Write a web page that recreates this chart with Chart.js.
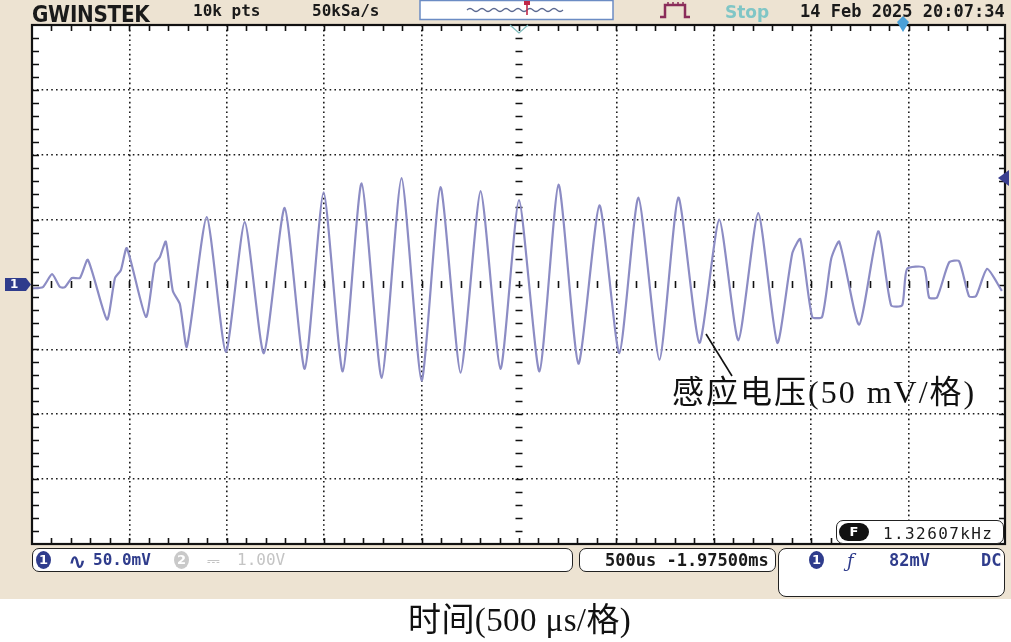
<!DOCTYPE html>
<html><head><meta charset="utf-8">
<script src="https://cdn.jsdelivr.net/npm/chart.js@4.4.1/dist/chart.umd.min.js"></script>
<style>
html,body{margin:0;padding:0;background:#fff;}
#wrap{position:relative;width:1011px;height:642px;overflow:hidden;background:#fff;}
#beige{position:absolute;left:0;top:0;width:1011px;height:599px;background:#ede3d2;}
#c{position:absolute;left:0;top:0;}
#deco{position:absolute;left:0;top:0;}
.t{position:absolute;white-space:nowrap;line-height:1;}
.mono{font-family:"DejaVu Sans Mono",monospace;font-weight:bold;}
.box{position:absolute;box-sizing:border-box;border:1.5px solid #222;background:#fff;}
.circ{position:absolute;width:15px;height:18px;border-radius:50%;color:#fff;font:bold 13px "DejaVu Sans",sans-serif;text-align:center;line-height:18px;}
.cn{font-family:"Liberation Serif","Noto Sans CJK SC",serif;color:#111;}
</style></head>
<body><div id="wrap">
<div id="beige"></div>
<canvas id="c" width="1011" height="642"></canvas>
<svg id="deco" width="1011" height="642" xmlns="http://www.w3.org/2000/svg">
  <rect x="420" y="0.5" width="193" height="19" fill="#fff" stroke="#6b8cc4" stroke-width="1.5"/>
  <path d="M467 10 q3 -3 6 0 t6 0 t6 0 t6 0 t6 0 t6 0 t6 0 t6 0 t6 0 t6 0 t6 0 t6 0 t6 0 t6 0 t6 0 t6 0" fill="none" stroke="#5a6890" stroke-width="1.2"/>
  <line x1="527" y1="3" x2="527" y2="15" stroke="#c02848" stroke-width="1.6"/>
  <path d="M524 1 h6 v4 h-6 z" fill="#c02848"/>
  <path d="M660 17 H665 V5 H685 V17 H690" fill="none" stroke="#8a2c5a" stroke-width="2.5"/>
  <path d="M668 4 v-2 M673 4 v-2 M678 4 v-2 M683 4 v-2" stroke="#8a2c5a" stroke-width="1.5"/>
  <path d="M510 25 L519 33 L528 25" fill="none" stroke="#7fbcbc" stroke-width="1.3"/>
  <path d="M897 22 L903 16 L909 22 L903 32 Z" fill="#4aa0d8"/>
  <path d="M5 278 H26 L31 284.5 L26 291 H5 Z" fill="#2f3c8c"/>
  <line x1="706" y1="334" x2="732" y2="376" stroke="#111" stroke-width="1.6"/>
</svg>
<div class="t" style="left:32px;top:1px;font:bold 20px 'DejaVu Sans',sans-serif;color:#1a1a1a;letter-spacing:-0.3px;transform:scaleY(1.12);transform-origin:0 0;">GWINSTEK</div>
<div class="t mono" style="left:193px;top:3px;font-size:16px;color:#1a1a1a;">10k pts</div>
<div class="t mono" style="left:312px;top:3px;font-size:16px;color:#1a1a1a;">50kSa/s</div>
<div class="t" style="left:725px;top:2px;font:bold 17px 'DejaVu Sans',sans-serif;color:#80c6c6;">Stop</div>
<div class="t mono" style="left:800px;top:3px;font-size:17px;color:#1a1a1a;">14 Feb 2025 20:07:34</div>
<div class="t" style="left:10px;top:278px;font:bold 12px 'DejaVu Sans',sans-serif;color:#fff;line-height:13px;">1</div>

<div class="t cn" style="left:672px;top:376px;font-size:32px;letter-spacing:2px;">感应电压(50 mV/格)</div>

<div class="box" style="left:836px;top:520px;width:168px;height:24px;border-radius:7px;"></div>
<div class="t" style="left:839px;top:523px;width:30px;height:18px;border-radius:9px;background:#111;color:#fff;font:bold 13px 'DejaVu Sans',sans-serif;text-align:center;line-height:18px;">F</div>
<div class="t" style="left:883px;top:524px;font:16px 'DejaVu Sans Mono',monospace;color:#1a1a1a;letter-spacing:1.4px;">1.32607kHz</div>

<div class="box" style="left:32px;top:548px;width:541px;height:24px;border-radius:7px;"></div>
<div class="circ" style="left:36px;top:551px;background:#2f3c8c;">1</div>
<div class="t" style="left:68px;top:549px;font:bold 22px 'DejaVu Sans',sans-serif;color:#2f3c8c;">∿</div>
<div class="t mono" style="left:93px;top:552px;font-size:16px;color:#2f3c8c;">50.0mV</div>
<div class="circ" style="left:174px;top:551px;background:#c9c9c9;">2</div>
<div class="t" style="left:207px;top:551px;font:16px 'DejaVu Sans',sans-serif;color:#c4c4c4;">⎓</div>
<div class="t mono" style="left:237px;top:552px;font-size:16px;color:#c4c4c4;font-weight:normal;">1.00V</div>

<div class="box" style="left:579px;top:548px;width:197px;height:24px;border-radius:7px;"></div>
<div class="t mono" style="left:605px;top:552px;font-size:17px;color:#1a1a1a;">500us -1.97500ms</div>

<div class="box" style="left:778px;top:548px;width:227px;height:49px;border-radius:8px;"></div>
<div class="circ" style="left:809px;top:551px;background:#2f3c8c;">1</div>
<div class="t" style="left:847px;top:550px;font:italic 18px 'DejaVu Serif',serif;color:#2f3c8c;">ƒ</div>
<div class="t mono" style="left:889px;top:552px;font-size:17px;color:#2f3c8c;">82mV</div>
<div class="t mono" style="left:981px;top:552px;font-size:17px;color:#2f3c8c;">DC</div>

<div class="t cn" style="left:408px;top:604px;font-size:33px;letter-spacing:0.4px;">时间(500 μs/格)</div>
</div>
<script>
// ---- data (time in µs relative to centre, voltage in mV) ----
const timeUs = [-2500,-2444,-2397,-2356,-2331,-2295,-2254,-2213,-2115,-2074,-2044,-2013,-1915,-1869,-1844,-1813,-1777,-1741,-1705,-1603,-1505,-1408,-1310,-1203,-1100,-1003,-905,-808,-705,-603,-500,-403,-300,-197,-95,0,105,203,305,413,515,613,721,818,926,1028,1126,1228,1326,1403,1444,1505,1556,1603,1644,1746,1844,1910,1967,1992,2079,2105,2146,2208,2259,2310,2346,2403,2479];
const voltageMv = [-3,-2,8,-2,-2,5,5,19,-27,5,11,28,-25,16,21,33,-5,-15,-48,52,-52,48,-53,59,-65,71,-67,78,-72,82,-74,75,-68,72,-65,65,-67,77,-61,61,-53,67,-58,67,-45,50,-43,55,-45,24,35,-25,-25,20,33,-31,41,-16,-16,12,13,-10,-10,17,18,-9,-9,12,-5];
const timeDivUs = 500, timeDivs = 10;
const voltDivMv = 50, voltDivs = 8;
const triggerLevelMv = 82;

const points = timeUs.map((t,i)=>({x:t,y:voltageMv[i]}));
const xHalf = timeDivUs*timeDivs/2, yHalf = voltDivMv*voltDivs/2;

const scopePlugin = {
  id:'scope',
  beforeDraw(chart){
    const {ctx, chartArea:a} = chart;
    ctx.save(); ctx.fillStyle='#fff'; ctx.fillRect(a.left,a.top,a.right-a.left,a.bottom-a.top); ctx.restore();
  },
  beforeDatasetsDraw(chart){
    const {ctx, chartArea:a, scales:{x,y}} = chart;
    ctx.save();
    ctx.strokeStyle='#111'; ctx.lineWidth=1.6;
    ctx.beginPath();
    const x0 = x.getPixelForValue(0), y0 = y.getPixelForValue(0);
    for(let t=-xHalf+timeDivUs/5; t<xHalf-1; t+=timeDivUs/5){
      const px = Math.round(x.getPixelForValue(t))+0.5;
      ctx.moveTo(px,a.top); ctx.lineTo(px,a.top+6);
      ctx.moveTo(px,a.bottom); ctx.lineTo(px,a.bottom-6);
      ctx.moveTo(px,y0-3.5); ctx.lineTo(px,y0+3.5);
    }
    for(let v=-yHalf+voltDivMv/5; v<yHalf-1; v+=voltDivMv/5){
      const py = Math.round(y.getPixelForValue(v))+0.5;
      ctx.moveTo(a.left,py); ctx.lineTo(a.left+7,py);
      ctx.moveTo(a.right,py); ctx.lineTo(a.right-7,py);
      ctx.moveTo(x0-3.5,py); ctx.lineTo(x0+3.5,py);
    }
    ctx.stroke();
    ctx.restore();
  },
  afterDraw(chart){
    const {ctx, chartArea:a, scales:{y}} = chart;
    ctx.save();
    ctx.strokeStyle='#111'; ctx.lineWidth=2.2;
    ctx.strokeRect(a.left,a.top,a.right-a.left-1,a.bottom-a.top);
    const ty = y.getPixelForValue(triggerLevelMv);
    ctx.fillStyle='#3a3f8f';
    ctx.beginPath(); ctx.moveTo(a.right-8,ty); ctx.lineTo(a.right+3,ty-8); ctx.lineTo(a.right+3,ty+8); ctx.closePath(); ctx.fill();
    ctx.restore();
  }
};

new Chart(document.getElementById('c'), {
  type:'line',
  data:{datasets:[{data:points, borderColor:'rgb(140,140,196)', borderWidth:2.2, pointRadius:0, tension:0.2, fill:false}]},
  options:{
    responsive:false, animation:false,
    layout:{padding:{left:32,right:5,top:25,bottom:98}},
    plugins:{legend:{display:false},tooltip:{enabled:false}},
    scales:{
      x:{type:'linear',min:-xHalf,max:xHalf,
         ticks:{display:false,stepSize:timeDivUs},
         grid:{drawTicks:false,lineWidth:1.6,color:c=>(c.tick&&(c.tick.value===0||Math.abs(c.tick.value)>=xHalf))?'rgba(0,0,0,0)':'#1a1a1a'},
         border:{display:false,dash:[1.6,3.2]},
         afterFit:s=>{s.height=0;}},
      y:{type:'linear',min:-yHalf,max:yHalf,
         ticks:{display:false,stepSize:voltDivMv},
         grid:{drawTicks:false,lineWidth:1.6,color:c=>(c.tick&&(c.tick.value===0||Math.abs(c.tick.value)>=yHalf))?'rgba(0,0,0,0)':'#1a1a1a'},
         border:{display:false,dash:[1.6,3.2]},
         afterFit:s=>{s.width=0;}}
    }
  },
  plugins:[scopePlugin]
});
</script>
</body></html>
